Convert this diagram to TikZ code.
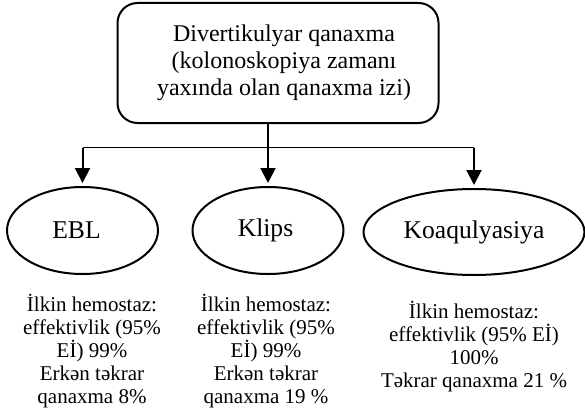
\documentclass[tikz,border=0pt]{standalone}
\usepackage{fontspec}
\setmainfont{Liberation Serif}
\usetikzlibrary{shapes.geometric,arrows.meta}
\newcommand\rsh{\hspace*{12pt}}
\begin{document}
\begin{tikzpicture}[x=1pt,y=-1pt,
  topbox/.style={draw,line width=2pt,rounded corners=20pt,minimum width=321pt,minimum height=120pt,inner sep=0pt,align=center,font=\fontsize{24}{27}\selectfont},
  oval/.style={draw,ellipse,line width=2pt,minimum width=151pt,minimum height=87pt,inner sep=0pt,font=\fontsize{25.6}{28}\selectfont},
  info/.style={align=center,inner sep=0pt,font=\fontsize{21}{23}\selectfont},
  bar/.style={line width=1.2pt},
  arr/.style={line width=2pt,-{Triangle[width=15pt,length=15pt]},shorten >=3pt}]
\useasboundingbox (0,0) rectangle (585,412);
\node[topbox] (top) at (278,63) {\rsh Divertikulyar qanaxma\\\rsh(kolonoskopiya zamanı\\\rsh yaxında olan qanaxma izi)};
\node[oval] (e1) at (82.5,230.5) {EBL\hspace*{12pt}};
\node[oval] (e2) at (268,230.5) {Klips\hspace*{5pt}};
\node[oval,minimum width=221pt,minimum height=86pt] (e3) at (474,232) {Koaqulyasiya};
\node[info] (t1) at (92,351) {İlkin hemostaz:\\effektivlik (95\%\\Eİ) 99\%\\Erkən təkrar\\qanaxma 8\%};
\node[info] (t2) at (266,351) {İlkin hemostaz:\\effektivlik (95\%\\Eİ) 99\%\\Erkən təkrar\\qanaxma 19 \%};
\node[info] (t3) at (474,347) {İlkin hemostaz:\\effektivlik (95\% Eİ)\\100\%\\Təkrar qanaxma 21 \%};
\coordinate (barY) at (0,147.5);
\draw[bar] (e1.north |- barY) -- (e3.north |- barY);
\draw[arr] (top.south -| e2.north) -- (e2.north);
\draw[arr] (e1.north |- barY) -- (e1.north);
\draw[arr] (e3.north |- barY) -- (e3.north);
\end{tikzpicture}
\end{document}
